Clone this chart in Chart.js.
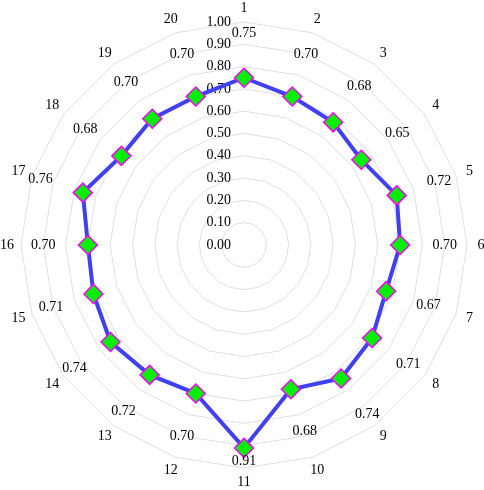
<!DOCTYPE html>
<html>
<head>
<meta charset="utf-8">
<script src="https://cdn.jsdelivr.net/npm/chart.js@4/dist/chart.umd.min.js"></script>
<style>
  body { margin: 0; background: #fff; }
  #wrap { width: 484px; height: 490px; }
</style>
</head>
<body>
<div id="wrap"><canvas id="radar" width="484" height="490"></canvas></div>
<script>
// categories and values
const categories = ['1','2','3','4','5','6','7','8','9','10','11','12','13','14','15','16','17','18','19','20'];
const values = [0.75, 0.70, 0.68, 0.65, 0.72, 0.70, 0.67, 0.71, 0.74, 0.68,
                0.91, 0.70, 0.72, 0.74, 0.71, 0.70, 0.76, 0.68, 0.70, 0.70];
const tickValues = [0.0, 0.1, 0.2, 0.3, 0.4, 0.5, 0.6, 0.7, 0.8, 0.9, 1.0];

const serif = 'Liberation Serif, Times New Roman, serif';

// tick labels left of the vertical axis, category names on a ring outside,
// value labels just outside each point
const labelPlugin = {
  id: 'labels',
  beforeDatasetsDraw(chart) {
    const r = chart.scales.r;
    const ctx = chart.ctx;
    ctx.save();
    ctx.font = '14px ' + serif;
    ctx.fillStyle = '#000';
    ctx.textBaseline = 'middle';
    ctx.textAlign = 'right';
    tickValues.forEach(v => {
      ctx.fillText(v.toFixed(2), r.xCenter - 13, r.yCenter - r.getDistanceFromCenterForValue(v));
    });
    ctx.textAlign = 'center';
    categories.forEach((c, i) => {
      const p = r.getPointPosition(i, r.drawingArea + 14);
      ctx.fillText(c, p.x, p.y);
    });
    ctx.restore();
  },
  afterDatasetsDraw(chart) {
    const r = chart.scales.r;
    const ctx = chart.ctx;
    ctx.save();
    ctx.font = '14px ' + serif;
    ctx.fillStyle = '#000';
    ctx.textAlign = 'center';
    ctx.textBaseline = 'middle';
    values.forEach((v, i) => {
      const p = r.getPointPositionForValue(i, Math.min(v + 0.2, 0.97));
      ctx.fillText(v.toFixed(2), p.x, p.y);
    });
    ctx.restore();
  }
};

const ctx = document.getElementById('radar').getContext('2d');
const chart = new Chart(ctx, {
  type: 'radar',
  data: {
    labels: categories,
    datasets: [{
      data: values,
      borderColor: '#4040f0',
      borderWidth: 4,
      fill: false,
      pointStyle: 'rectRot',
      pointRadius: 9.5,
      pointHoverRadius: 9.5,
      pointBackgroundColor: '#00ee00',
      pointBorderColor: '#ff00ff',
      pointBorderWidth: 1.5
    }]
  },
  options: {
    responsive: false,
    animation: false,
    layout: { padding: { left: 21, right: 17, top: 22, bottom: 22 } },
    plugins: {
      legend: { display: false },
      tooltip: { enabled: false }
    },
    scales: {
      r: {
        min: 0,
        max: 1,
        ticks: { stepSize: 0.1, display: false },
        angleLines: { display: false },
        grid: { color: '#dcdfe8', lineWidth: 1 },
        pointLabels: { display: false }
      }
    }
  },
  plugins: [labelPlugin]
});
</script>
</body>
</html>
